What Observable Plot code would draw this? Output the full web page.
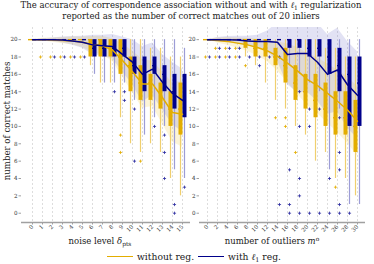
<!DOCTYPE html>
<html>
<head>
<meta charset="utf-8">
<script src="https://cdn.jsdelivr.net/npm/d3@7"></script>
<script src="https://cdn.jsdelivr.net/npm/@observablehq/plot@0.6"></script>
<style>
html,body{margin:0;padding:0;background:#fff;}
#wrap{position:relative;width:374px;height:264px;overflow:hidden;font-family:"DejaVu Serif",serif;color:#1a1a1a;}
.abs{position:absolute;white-space:nowrap;}
#title{left:4px;top:0;width:374px;text-align:center;font-size:8.5px;line-height:10.6px;}
sub{font-size:70%;vertical-align:-0.3em;line-height:0}
sup{font-size:70%;vertical-align:0.5em;line-height:0}
.xt{width:200px;text-align:center;font-size:8.5px;top:236px;}
#ytitle{width:180px;height:10px;line-height:10px;text-align:center;font-size:8.6px;left:-83px;top:116px;transform:rotate(-90deg);}
#legend{left:107px;top:251px;display:flex;align-items:center;font-size:9.2px;}
.sw{display:inline-block;width:26px;height:0;border-top:1.8px solid;margin-right:4px;}
svg{overflow:visible}
</style>
</head>
<body>
<div id="wrap">
  <div id="title" class="abs">The accuracy of correspondence association without and with <i>ℓ</i><sub>1</sub> regularization<br>reported as the number of correct matches out of 20 inliers</div>
  <div id="left" class="abs" style="left:0;top:24px"></div>
  <div id="right" class="abs" style="left:180px;top:24px"></div>
  <div id="ytitle" class="abs">number of correct matches</div>
  <div class="abs xt" style="left:0px">noise level <i>δ</i><sub>pts</sub></div>
  <div class="abs xt" style="left:172px">number of outliers <i>m</i><sup>o</sup></div>
  <div id="legend" class="abs"><span class="sw" style="border-color:#e3ad00"></span><span style="margin-right:4px">without reg.</span><span class="sw" style="border-color:#00008b"></span><span>with <i>ℓ</i><sub>1</sub> reg.</span></div>
</div>
<script>
// ---------- categories & ticks ----------
const noiseLevels = [0,1,2,3,4,5,6,7,8,9,10,11,12,13,14,15];
const outlierCounts = [0,2,4,6,8,10,12,14,16,18,20,22,24,26,28,30];
const yTicks = [0,2,4,6,8,10,12,14,16,18,20];

// ---------- left panel: noise level, without reg. ----------
const noiseMeanWithout = [20,20,19.95,19.9,19.85,19.7,19.45,19.3,18.8,17.6,16.3,14.9,14.9,13.3,11.6,11.4];
const noiseSdWithout   = [0,0.15,0.25,0.35,0.45,0.6,0.9,1.1,1.3,1.9,2.4,2.8,2.6,3.0,3.4,3.8];
const noiseQ1Without   = [20,20,20,20,20,20,18,18,18,16,14,13,13,12,10,9];
const noiseQ3Without   = [20,20,20,20,20,20,20,20,20,20,18,17,16,15,14,15];
const noiseMedWithout  = [20,20,20,20,20,20,20,20,19,18,17,15,15,14,12,12];
const noiseLoWithout   = [20,20,20,20,20,20,17,15,15,11,8,7,8,7,4,2];
const noiseHiWithout   = [20,20,20,20,20,20,20,20,20,20,20,20,19,19,18,18];
const noiseOutWithout  = [[],[18],[18],[18],[18],[18],[],[],[],[9,7],[],[6],[],[],[],[]];

// ---------- left panel: noise level, with l1 reg. ----------
const noiseMeanWith = [20,20,20,19.95,19.85,19.7,19.4,19.3,19.2,18.3,17.4,16.0,16.6,15.1,13.8,13.0];
const noiseSdWith   = [0,0.1,0.2,0.35,0.5,0.7,1.1,1.2,1.4,2.0,2.6,3.2,3.0,3.2,3.6,3.6];
const noiseQ1With   = [20,20,20,20,20,20,18,18,18,18,16,14,16,14,12,11];
const noiseQ3With   = [20,20,20,20,20,20,20,20,20,20,18,18,18,17,16,16];
const noiseMedWith  = [20,20,20,20,20,20,19,19,19,19,17,16,17,16,14,13];
const noiseLoWith   = [20,20,20,20,20,20,16,15,15,15,13,9,11,10,5,4];
const noiseHiWith   = [20,20,20,20,20,20,20,20,20,20,20,20,20,20,20,19];
const noiseOutWith  = [[],[],[18],[18],[18],[18],[],[],[14],[14,13],[12,6],[],[10],[9,7,4],[1,0],[3]];

// ---------- right panel: outliers, without reg. ----------
const outMeanWithout = [20,19.9,19.8,19.6,19.4,19.1,18.7,18.1,17.3,16.4,15.4,14.7,13.8,12.9,11.9,10.6];
const outSdWithout   = [0,0.3,0.45,0.6,0.75,0.95,1.25,1.7,2.2,2.7,3.0,3.2,3.4,3.6,3.8,4.0];
const outQ1Without   = [20,20,20,20,19,18,18,17,15,13,12,11,10,9,9,7];
const outQ3Without   = [20,20,20,20,20,20,20,19,19,17,16,16,15,14,14,13];
const outMedWithout  = [20,20,20,20,20,19,19,18,17,15,14,13,12,11,11,10];
const outLoWithout   = [20,20,20,20,18,17,15,13,12,10,9,6,7,4,4,2];
const outHiWithout   = [20,20,20,20,20,20,20,20,20,20,20,20,19,19,18,18];
const outOutWithout  = [[18],[19,18],[19,18],[19,18],[17],[],[],[11],[11,10],[7],[],[],[],[3],[],[]];

// ---------- right panel: outliers, with l1 reg. ----------
const outMeanWith = [20,20,20,19.95,19.85,19.8,19.8,19.7,18.3,18.4,18.4,17.4,16.0,16.5,14.8,13.6];
const outSdWith   = [0,0.25,0.35,0.45,0.55,0.7,1.2,2.2,3.5,4.5,4.5,4.5,4.6,4.8,5.0,5.0];
const outQ1With   = [20,20,20,20,20,20,20,20,19,19,18,18,16,14,10,10];
const outQ3With   = [20,20,20,20,20,20,20,20,20,20,20,20,20,19,18,18];
const outMedWith  = [20,20,20,20,20,20,20,20,20,20,19,19,18,17,16,15];
const outLoWith   = [20,20,20,20,20,20,20,20,17,16,15,14,5,12,1,1];
const outHiWith   = [20,20,20,20,20,20,20,20,20,20,20,20,20,20,20,20];
const outOutWith  = [[18],[19,18],[19,18],[19,18],[18],[18,17],[18],[18,1],[5,1,0],[14,10,4,2,0],[12,10,0],[12,0],[4,0],[11,7,5,1,0],[0],[]];

// ---------- styling ----------
const YEL = "#e3ad00", NAV = "#00008b";
const YEL_W = "#f0cf6e", NAV_W = "#9c9cd6";
const yDomain = [-1.07, 21.4];

function series(cats, mean, sd, q1, q3, med, lo, hi) {
  return cats.map((c, i) => ({c, mean: mean[i], bLo: mean[i] - sd[i], bHi: mean[i] + sd[i],
    q1: q1[i], q3: q3[i], med: med[i], lo: lo[i], hi: hi[i]}));
}
function outs(cats, o) { return cats.flatMap((c, i) => o[i].map(v => ({c, v}))); }

function panel({cats, W, N, WO, NO, width, marginLeft, range}) {
  return Plot.plot({
    width, height: 226, marginLeft, marginRight: 2, marginTop: 3, marginBottom: 28,
    x: {type: "band", domain: cats, range, padding: 0, label: null},
    y: {domain: yDomain, label: null},
    style: {fontFamily: "DejaVu Serif, serif", fontSize: "5.6px", background: "transparent", overflow: "visible", color: "#222"},
    marks: [
      Plot.ruleX(cats, {stroke: "#d9d9d9", strokeDasharray: "2,2", strokeWidth: 0.9}),
      Plot.areaY(W, {x: "c", y1: "bLo", y2: "bHi", fill: "#f5d76e", fillOpacity: 0.28, clip: true}),
      Plot.areaY(N, {x: "c", y1: "bLo", y2: "bHi", fill: "#6e6ec8", fillOpacity: 0.2, clip: true}),
      Plot.ruleX(W, {x: "c", y1: "lo", y2: "hi", dx: -2, stroke: YEL_W, strokeWidth: 1.2}),
      Plot.ruleX(N, {x: "c", y1: "lo", y2: "hi", dx: 2, stroke: NAV_W, strokeWidth: 1.2}),
      Plot.ruleX(W, {x: "c", y1: "q1", y2: "q3", dx: -2, stroke: YEL, strokeWidth: 4}),
      Plot.ruleX(N, {x: "c", y1: "q1", y2: "q3", dx: 2, stroke: NAV, strokeWidth: 4}),
      Plot.tickY(W, {x: "c", y: "med", stroke: YEL, strokeWidth: 1.4, insetLeft: 1, insetRight: 5}),
      Plot.tickY(N, {x: "c", y: "med", stroke: NAV, strokeWidth: 1.4, insetLeft: 5, insetRight: 1}),
      Plot.dot(WO, {x: "c", y: "v", dx: -2, symbol: "plus", r: 1.1, stroke: YEL, strokeWidth: 0.8}),
      Plot.dot(NO, {x: "c", y: "v", dx: 2, symbol: "plus", r: 1.1, stroke: "#2a2aa0", strokeWidth: 0.8}),
      Plot.lineY(W, {x: "c", y: "mean", stroke: YEL, strokeWidth: 1.5}),
      Plot.lineY(N, {x: "c", y: "mean", stroke: NAV, strokeWidth: 1.5}),
      Plot.axisY({ticks: yTicks, line: true, stroke: "#a0a0a0", fill: "#333", tickSize: 2.5, tickPadding: 1.5, label: null}),
      Plot.axisX({tickRotate: -45, stroke: "#a0a0a0", fill: "#333", tickSize: 2.5, tickPadding: 1, label: null}),
      Plot.ruleY([yDomain[0]], {stroke: "#a0a0a0", strokeWidth: 1.3})
    ]
  });
}

document.getElementById("left").append(panel({
  cats: noiseLevels,
  W: series(noiseLevels, noiseMeanWithout, noiseSdWithout, noiseQ1Without, noiseQ3Without, noiseMedWithout, noiseLoWithout, noiseHiWithout),
  N: series(noiseLevels, noiseMeanWith, noiseSdWith, noiseQ1With, noiseQ3With, noiseMedWith, noiseLoWith, noiseHiWith),
  WO: outs(noiseLevels, noiseOutWithout), NO: outs(noiseLevels, noiseOutWith),
  width: 192, marginLeft: 21, range: [26, 187]
}));
document.getElementById("right").append(panel({
  cats: outlierCounts,
  W: series(outlierCounts, outMeanWithout, outSdWithout, outQ1Without, outQ3Without, outMedWithout, outLoWithout, outHiWithout),
  N: series(outlierCounts, outMeanWith, outSdWith, outQ1With, outQ3With, outMedWith, outLoWith, outHiWith),
  WO: outs(outlierCounts, outOutWithout), NO: outs(outlierCounts, outOutWith),
  width: 187, marginLeft: 19, range: [22, 182.8]
}));
</script>
</body>
</html>
